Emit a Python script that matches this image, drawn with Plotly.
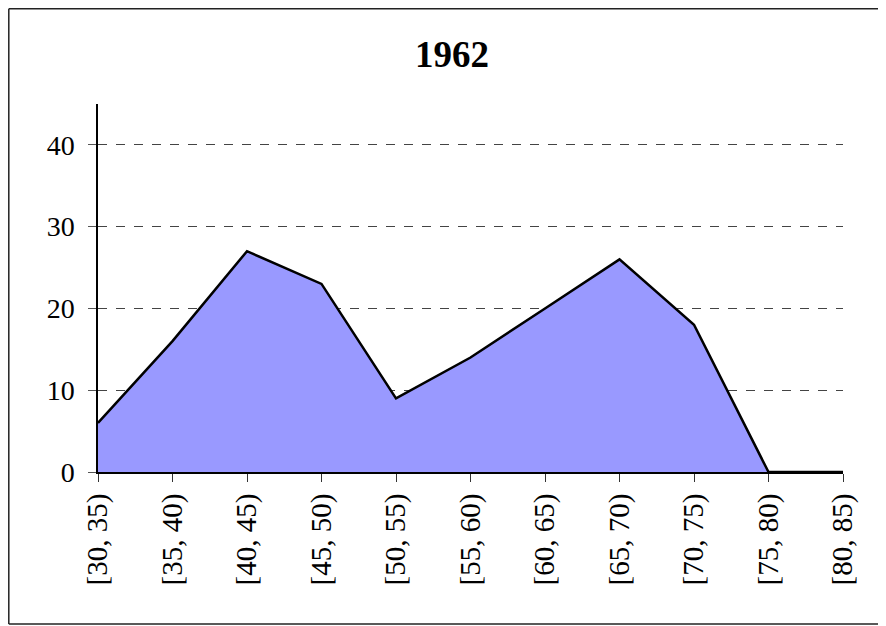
import plotly.graph_objects as go

categories = ["[30, 35)", "[35, 40)", "[40, 45)", "[45, 50)", "[50, 55)", "[55, 60)",
              "[60, 65)", "[65, 70)", "[70, 75)", "[75, 80)", "[80, 85)"]
values = [6, 16, 27, 23, 9, 14, 20, 26, 18, 0, 0]
y_ticks = [0, 10, 20, 30, 40]
title_text = "1962"

# page has an 8px body margin; figure is placed at (8, 8)
W, H = 886, 618
L, R, T, B = 90, 51, 96, 154
pw, ph = W - L - R, H - T - B

def px_x(p):
    return (p - L) / pw

def px_y(p):
    return (H - B - p) / ph

fig = go.Figure()
fig.add_trace(go.Scatter(
    x=list(range(len(categories))), y=values, mode="lines",
    fill="tozeroy", fillcolor="#9999ff",
    line=dict(color="black", width=2.5), showlegend=False, hoverinfo="skip"))

border = dict(color="#222222", width=1.5)
fig.update_layout(
    width=W, height=H,
    margin=dict(l=L, r=R, t=T, b=B),
    paper_bgcolor="white", plot_bgcolor="white",
    font=dict(family="Liberation Serif", color="black"),
    title=dict(text="<b>" + title_text + "</b>", x=444 / W, xanchor="center",
               y=1 - 46 / H, yanchor="middle", font=dict(size=37, family="Liberation Serif")),
    xaxis=dict(range=[0, len(categories) - 1], tickvals=list(range(len(categories))),
               ticktext=categories, tickangle=-90, showgrid=False, zeroline=False,
               showline=True, linecolor="black", linewidth=2,
               ticks="outside", ticklen=8, tickcolor="#333333",
               tickfont=dict(size=29, family="Liberation Serif")),
    yaxis=dict(range=[0, 45], tickvals=y_ticks, showgrid=True, gridcolor="#444444",
               griddash="dash", gridwidth=1, zeroline=False,
               showline=True, linecolor="black", linewidth=1.5,
               ticks="outside", ticklen=8, tickcolor="#555555",
               ticklabelstandoff=8,
               tickfont=dict(size=28, family="Liberation Serif")),
    shapes=[
        dict(type="line", xref="paper", yref="paper", x0=px_x(0.8), x1=px_x(W),
             y0=px_y(0.8), y1=px_y(0.8), line=border, layer="above"),
        dict(type="line", xref="paper", yref="paper", x0=px_x(0.8), x1=px_x(0.8),
             y0=px_y(0.8), y1=px_y(616), line=border, layer="above"),
        dict(type="line", xref="paper", yref="paper", x0=px_x(0.8), x1=px_x(W),
             y0=px_y(616), y1=px_y(616), line=border, layer="above"),
    ],
)

fig.write_html("out.html")
